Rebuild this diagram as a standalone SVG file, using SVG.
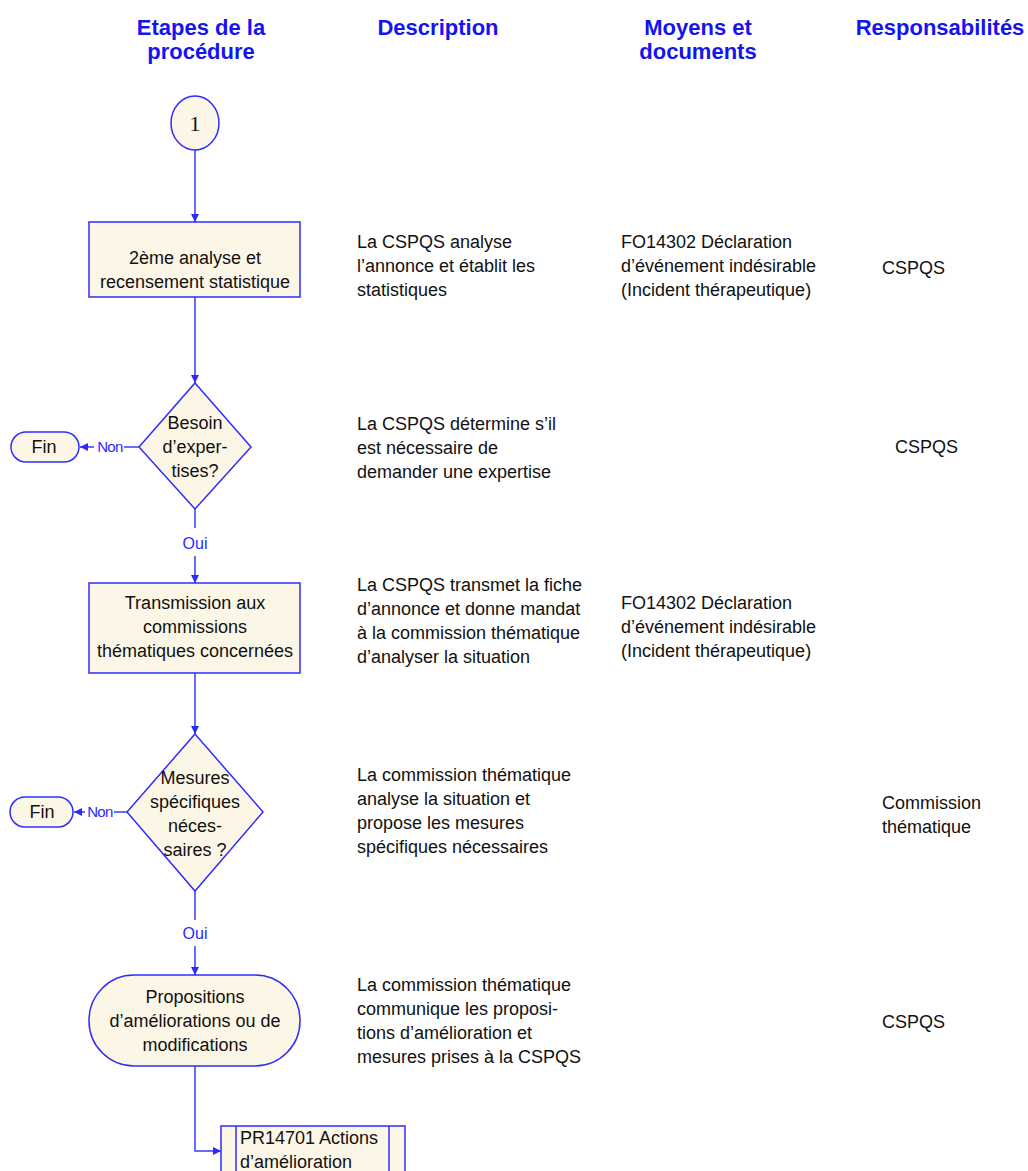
<svg xmlns="http://www.w3.org/2000/svg" width="1028" height="1171" viewBox="0 0 1028 1171">
  <style>
    .hdr { font-family: "Liberation Sans", Arial, sans-serif; font-size: 22px; font-weight: bold; fill: #1414f0; text-anchor: middle; }
    .t { font-family: "Liberation Sans", Arial, sans-serif; font-size: 18px; fill: #111; }
    .c { text-anchor: middle; }
    .lbl { font-family: "Liberation Sans", Arial, sans-serif; fill: #2a2aff; }
    .shape { fill: #fcf6e6; stroke: #2e2eff; stroke-width: 1.5; }
    .conn { fill: none; stroke: #3a3aff; stroke-width: 1.5; }
  </style>
  <defs>
    <marker id="arrow" viewBox="0 0 10 10" refX="10" refY="5" markerWidth="8" markerHeight="8" markerUnits="userSpaceOnUse" orient="auto">
      <path d="M0,0 L10,5 L0,10 z" fill="#2a2aff"/>
    </marker>
  </defs>

  <rect width="1028" height="1171" fill="#ffffff"/>

  <!-- column headers -->
  <g id="headers">
    <text class="hdr" x="201" y="35">Etapes de la</text>
    <text class="hdr" x="201" y="59">procédure</text>
    <text class="hdr" x="438" y="35">Description</text>
    <text class="hdr" x="698" y="35">Moyens et</text>
    <text class="hdr" x="698" y="59">documents</text>
    <text class="hdr" x="940" y="35">Responsabilités</text>
  </g>

  <!-- connectors -->
  <g id="connectors">
    <path class="conn" d="M195,150 L195,222" marker-end="url(#arrow)"/>
    <path class="conn" d="M195,297 L195,383" marker-end="url(#arrow)"/>
    <path class="conn" d="M139,447 L124,447"/>
    <path class="conn" d="M94,447 L80,447" marker-end="url(#arrow)"/>
    <text class="lbl" x="110" y="452" font-size="15" text-anchor="middle" letter-spacing="-0.6">Non</text>
    <path class="conn" d="M195,509 L195,528"/>
    <text class="lbl" x="195" y="549" font-size="16" text-anchor="middle">Oui</text>
    <path class="conn" d="M195,556 L195,583" marker-end="url(#arrow)"/>
    <path class="conn" d="M195,673 L195,734" marker-end="url(#arrow)"/>
    <path class="conn" d="M127,812 L114,812"/>
    <path class="conn" d="M85,812 L74,812" marker-end="url(#arrow)"/>
    <text class="lbl" x="100" y="817" font-size="15" text-anchor="middle" letter-spacing="-0.6">Non</text>
    <path class="conn" d="M195,891 L195,920"/>
    <text class="lbl" x="195" y="939" font-size="16" text-anchor="middle">Oui</text>
    <path class="conn" d="M195,946 L195,975" marker-end="url(#arrow)"/>
    <path class="conn" d="M195,1066 L195,1151 L221,1151" marker-end="url(#arrow)"/>
  </g>

  <!-- start connector "1" -->
  <g id="node-start">
    <ellipse class="shape" cx="195" cy="123" rx="24" ry="27"/>
    <text x="195" y="131" font-family="'Liberation Serif', 'Times New Roman', serif" font-size="22" fill="#111" text-anchor="middle">1</text>
  </g>

  <!-- step: second analysis -->
  <g id="node-analyse">
    <rect class="shape" x="89" y="222" width="211" height="75"/>
    <text class="t c" x="195" y="264">2ème analyse et</text>
    <text class="t c" x="195" y="288">recensement statistique</text>
  </g>

  <!-- decision: expertise needed -->
  <g id="node-besoin">
    <polygon class="shape" points="195,383 251,447 195,509 139,447"/>
    <text class="t c" x="195" y="429">Besoin</text>
    <text class="t c" x="195" y="453">d’exper-</text>
    <text class="t c" x="195" y="477">tises?</text>
  </g>

  <g id="node-fin1">
    <rect class="shape" x="11" y="432" width="68" height="30" rx="15"/>
    <text class="t c" x="44" y="453">Fin</text>
  </g>

  <!-- step: transmission -->
  <g id="node-transmission">
    <rect class="shape" x="89" y="583" width="211" height="90"/>
    <text class="t c" x="195" y="609">Transmission aux</text>
    <text class="t c" x="195" y="633">commissions</text>
    <text class="t c" x="195" y="657">thématiques concernées</text>
  </g>

  <!-- decision: specific measures -->
  <g id="node-mesures">
    <polygon class="shape" points="195,734 263,812 195,891 127,812"/>
    <text class="t c" x="195" y="784">Mesures</text>
    <text class="t c" x="195" y="808">spécifiques</text>
    <text class="t c" x="195" y="832">néces-</text>
    <text class="t c" x="195" y="856">saires ?</text>
  </g>

  <g id="node-fin2">
    <rect class="shape" x="10" y="797" width="63" height="30" rx="15"/>
    <text class="t c" x="42" y="818">Fin</text>
  </g>

  <!-- terminal: proposals -->
  <g id="node-propositions">
    <rect class="shape" x="89" y="975" width="211" height="91" rx="45"/>
    <text class="t c" x="195" y="1003">Propositions</text>
    <text class="t c" x="195" y="1027">d’améliorations ou de</text>
    <text class="t c" x="195" y="1051">modifications</text>
  </g>

  <!-- predefined process -->
  <g id="node-pr14701">
    <rect class="shape" x="221" y="1126" width="184" height="60"/>
    <line x1="236" y1="1126" x2="236" y2="1186" stroke="#2e2eff" stroke-width="1.5"/>
    <line x1="389" y1="1126" x2="389" y2="1186" stroke="#2e2eff" stroke-width="1.5"/>
    <text class="t" x="240" y="1144">PR14701 Actions</text>
    <text class="t" x="240" y="1168">d’amélioration</text>
  </g>

  <!-- description column -->
  <g id="descriptions">
    <text class="t" x="357" y="248">La CSPQS analyse</text>
    <text class="t" x="357" y="272">l’annonce et établit les</text>
    <text class="t" x="357" y="296">statistiques</text>

    <text class="t" x="357" y="430">La CSPQS détermine s’il</text>
    <text class="t" x="357" y="454">est nécessaire de</text>
    <text class="t" x="357" y="478">demander une expertise</text>

    <text class="t" x="357" y="591">La CSPQS transmet la fiche</text>
    <text class="t" x="357" y="615">d’annonce et donne mandat</text>
    <text class="t" x="357" y="639">à la commission thématique</text>
    <text class="t" x="357" y="663">d’analyser la situation</text>

    <text class="t" x="357" y="781">La commission thématique</text>
    <text class="t" x="357" y="805">analyse la situation et</text>
    <text class="t" x="357" y="829">propose les mesures</text>
    <text class="t" x="357" y="853">spécifiques nécessaires</text>

    <text class="t" x="357" y="991">La commission thématique</text>
    <text class="t" x="357" y="1015">communique les proposi-</text>
    <text class="t" x="357" y="1039">tions d’amélioration et</text>
    <text class="t" x="357" y="1063">mesures prises à la CSPQS</text>
  </g>

  <!-- means and documents column -->
  <g id="documents">
    <text class="t" x="621" y="248">FO14302 Déclaration</text>
    <text class="t" x="621" y="272">d’événement indésirable</text>
    <text class="t" x="621" y="296">(Incident thérapeutique)</text>

    <text class="t" x="621" y="609">FO14302 Déclaration</text>
    <text class="t" x="621" y="633">d’événement indésirable</text>
    <text class="t" x="621" y="657">(Incident thérapeutique)</text>
  </g>

  <!-- responsibilities column -->
  <g id="responsibilities">
    <text class="t" x="882" y="274">CSPQS</text>
    <text class="t" x="895" y="453">CSPQS</text>
    <text class="t" x="882" y="809">Commission</text>
    <text class="t" x="882" y="833">thématique</text>
    <text class="t" x="882" y="1028">CSPQS</text>
  </g>
</svg>
